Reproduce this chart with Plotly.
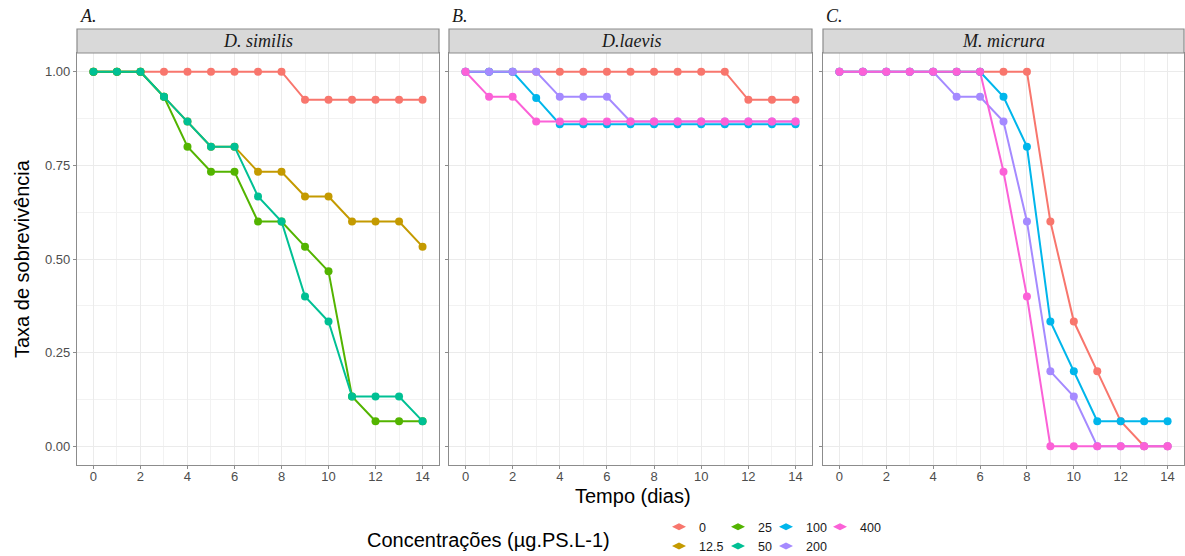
import plotly.graph_objects as go

# ---- data -------------------------------------------------------------
days = list(range(15))
concentrations = ["0", "12.5", "25", "50", "100", "200", "400"]
colors = ["#F8766D", "#C49A00", "#53B400", "#00C094", "#00B6EB", "#A58AFF", "#FB61D7"]

species = ["D. similis", "D.laevis", "M. micrura"]
panel_tags = ["A.", "B.", "C."]

# D. similis
sim_0 = [1, 1, 1, 1, 1, 1, 1, 1, 1, 0.925, 0.925, 0.925, 0.925, 0.925, 0.925]
sim_12_5 = [1, 1, 1, 0.933, 0.867, 0.8, 0.8, 0.733, 0.733, 0.667, 0.667, 0.6, 0.6, 0.6, 0.533]
sim_25 = [1, 1, 1, 0.933, 0.8, 0.733, 0.733, 0.6, 0.6, 0.533, 0.467, 0.133, 0.067, 0.067, 0.067]
sim_50 = [1, 1, 1, 0.933, 0.867, 0.8, 0.8, 0.667, 0.6, 0.4, 0.333, 0.133, 0.133, 0.133, 0.067]

# D. laevis
lae_0 = [1, 1, 1, 1, 1, 1, 1, 1, 1, 1, 1, 1, 0.925, 0.925, 0.925]
lae_100 = [1, 1, 1, 0.93, 0.86, 0.86, 0.86, 0.86, 0.86, 0.86, 0.86, 0.86, 0.86, 0.86, 0.86]
lae_200 = [1, 1, 1, 1, 0.933, 0.933, 0.933, 0.867, 0.867, 0.867, 0.867, 0.867, 0.867, 0.867, 0.867]
lae_400 = [1, 0.933, 0.933, 0.867, 0.867, 0.867, 0.867, 0.867, 0.867, 0.867, 0.867, 0.867, 0.867, 0.867, 0.867]

# M. micrura
mic_0 = [1, 1, 1, 1, 1, 1, 1, 1, 1, 0.6, 0.333, 0.2, 0.067, 0, 0]
mic_100 = [1, 1, 1, 1, 1, 1, 1, 0.933, 0.8, 0.333, 0.2, 0.067, 0.067, 0.067, 0.067]
mic_200 = [1, 1, 1, 1, 1, 0.933, 0.933, 0.867, 0.6, 0.2, 0.133, 0, 0, 0, 0]
mic_400 = [1, 1, 1, 1, 1, 1, 1, 0.733, 0.4, 0, 0, 0, 0, 0, 0]

panels = [
    {"0": sim_0, "12.5": sim_12_5, "25": sim_25, "50": sim_50},
    {"0": lae_0, "100": lae_100, "200": lae_200, "400": lae_400},
    {"0": mic_0, "100": mic_100, "200": mic_200, "400": mic_400},
]

y_ticks = [0, 0.25, 0.5, 0.75, 1.0]
y_ticktext = ["0.00", "0.25", "0.50", "0.75", "1.00"]
x_ticks = [0, 2, 4, 6, 8, 10, 12, 14]

# ---- layout geometry (pixels of a 1185 x 556 page) --------------------
W, H = 1185, 556
panel_px = [(77, 439), (449, 812), (823, 1184)]
plot_top, plot_bottom = 53, 465
strip_top = 29


def px_x(v):
    return v / W


def px_y(v):
    return 1 - v / H


fig = go.Figure()

SANS = "Liberation Sans, Arial, sans-serif"
SERIF = "Liberation Serif, Times New Roman, serif"
color_of = dict(zip(concentrations, colors))

for i, series in enumerate(panels):
    suffix = "" if i == 0 else str(i + 1)
    for conc in concentrations:
        if conc not in series:
            continue
        fig.add_trace(go.Scatter(
            x=days, y=series[conc], mode="lines+markers",
            line=dict(color=color_of[conc], width=2),
            marker=dict(color=color_of[conc], size=8),
            xaxis="x" + suffix, yaxis="y" + suffix,
            showlegend=False, hoverinfo="x+y",
        ))

# legend entries, laid out in columns of two
legend_columns = [["0", "12.5"], ["25", "50"], ["100", "200"], ["400"]]
legend_marker_px = [679, 738, 786, 840]
for c, col in enumerate(legend_columns):
    lg = "legend" if c == 0 else "legend" + str(c + 1)
    for conc in col:
        fig.add_trace(go.Scatter(
            x=[None], y=[None], mode="markers", name=conc,
            marker=dict(color=color_of[conc], size=10, symbol="diamond-wide"),
            legend=lg, showlegend=True,
        ))

layout = dict(
    width=W, height=H,
    margin=dict(l=0, r=0, t=0, b=0, autoexpand=False),
    paper_bgcolor="white", plot_bgcolor="white",
    font=dict(family=SANS, color="#1A1A1A"),
    shapes=[], annotations=[],
)

for c in range(len(legend_columns)):
    lg = "legend" if c == 0 else "legend" + str(c + 1)
    layout[lg] = dict(
        x=px_x(legend_marker_px[c] - 20), xanchor="left",
        y=px_y(512), yanchor="top",
        orientation="v", bgcolor="rgba(0,0,0,0)",
        font=dict(family=SANS, size=12.5, color="#1A1A1A"),
        itemwidth=30, tracegroupgap=0,
    )

for i, (x0, x1) in enumerate(panel_px):
    suffix = "" if i == 0 else str(i + 1)
    xa = dict(
        domain=[px_x(x0), px_x(x1)], range=[-0.7, 14.7],
        anchor="y" + suffix,
        tickmode="array", tickvals=x_ticks,
        ticks="outside", ticklen=3, tickcolor="#8C8C8C",
        ticklabelstandoff=-4,
        tickfont=dict(family=SANS, size=13, color="#4D4D4D"),
        showline=True, linecolor="#8C8C8C", linewidth=1.2, mirror=True,
        showgrid=True, gridcolor="#EBEBEB", gridwidth=1,
        minor=dict(dtick=1, tick0=0, showgrid=True, gridcolor="#F2F2F2", gridwidth=0.8),
        zeroline=False, fixedrange=True,
    )
    ya = dict(
        domain=[px_y(plot_bottom), px_y(plot_top)], range=[-0.05, 1.05],
        anchor="x" + suffix,
        tickmode="array", tickvals=y_ticks, ticktext=y_ticktext,
        showticklabels=(i == 0),
        ticks="outside", ticklen=3, tickcolor="#8C8C8C",
        tickfont=dict(family=SANS, size=13, color="#4D4D4D"),
        showline=True, linecolor="#8C8C8C", linewidth=1.2, mirror=True,
        showgrid=True, gridcolor="#EBEBEB", gridwidth=1,
        minor=dict(dtick=0.125, tick0=0, showgrid=True, gridcolor="#F2F2F2", gridwidth=0.8),
        zeroline=False, fixedrange=True,
    )
    layout["xaxis" + suffix] = xa
    layout["yaxis" + suffix] = ya

    # facet strip
    layout["shapes"].append(dict(
        type="rect", xref="paper", yref="paper",
        x0=px_x(x0), x1=px_x(x1), y0=px_y(plot_top), y1=px_y(strip_top),
        fillcolor="#D9D9D9", line=dict(color="#8C8C8C", width=1.2),
    ))
    layout["annotations"].append(dict(
        xref="paper", yref="paper",
        x=px_x((x0 + x1) / 2), y=px_y((strip_top + plot_top) / 2),
        text="<i>" + species[i] + "</i>", showarrow=False,
        font=dict(family=SERIF, size=18, color="#1A1A1A"),
        xanchor="center", yanchor="middle",
    ))
    # panel tag
    layout["annotations"].append(dict(
        xref="paper", yref="paper",
        x=px_x(x0 + 1), y=px_y(16),
        text="<i>" + panel_tags[i] + "</i>", showarrow=False,
        font=dict(family=SERIF, size=18, color="#1A1A1A"),
        xanchor="left", yanchor="middle",
    ))

# axis titles
layout["annotations"].append(dict(
    xref="paper", yref="paper", x=px_x(22), y=px_y((plot_top + plot_bottom) / 2),
    text="Taxa de sobrevivência", textangle=-90, showarrow=False,
    font=dict(family=SANS, size=20, color="#000000"),
    xanchor="center", yanchor="middle",
))
layout["annotations"].append(dict(
    xref="paper", yref="paper", x=px_x(633), y=px_y(496),
    text="Tempo (dias)", showarrow=False,
    font=dict(family=SANS, size=20, color="#000000"),
    xanchor="center", yanchor="middle",
))
# legend title
layout["annotations"].append(dict(
    xref="paper", yref="paper", x=px_x(612), y=px_y(540),
    text="Concentrações (µg.PS.L-1)", showarrow=False,
    font=dict(family=SANS, size=20, color="#000000"),
    xanchor="right", yanchor="middle",
))

fig.update_layout(**layout)
fig.write_html("out.html")
